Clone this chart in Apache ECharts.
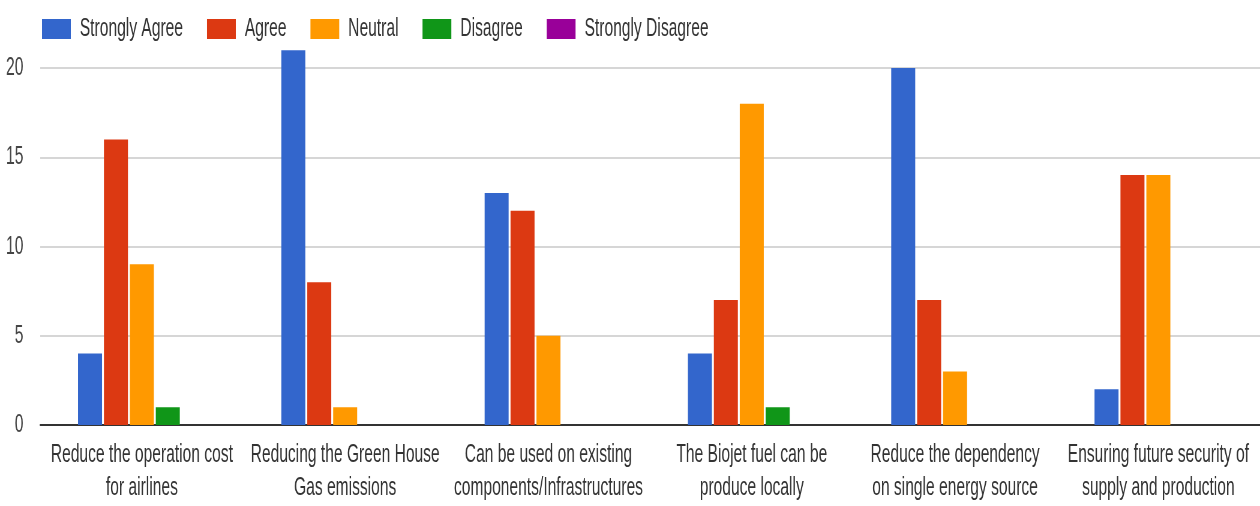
<!DOCTYPE html>
<html>
<head>
<meta charset="utf-8">
<script src="https://cdn.jsdelivr.net/npm/echarts@6/dist/echarts.min.js"></script>
<style>
  html, body { margin: 0; padding: 0; background: #fff; overflow: hidden; width: 1260px; height: 506px; }
  /* The chart is laid out wide and squeezed horizontally, giving condensed lettering */
  #chart { width: 2100px; height: 506px; transform: scaleX(0.6); transform-origin: 0 0; }
</style>
</head>
<body>
<div id="chart"></div>
<script>
// Survey statements (x categories)
const categories = [
  'Reduce the operation cost\nfor airlines',
  'Reducing the Green House\nGas emissions',
  'Can be used on existing\ncomponents/Infrastructures',
  'The Biojet fuel can be\nproduce locally',
  'Reduce the dependency\non single energy source',
  'Ensuring future security of\nsupply and production'
];

// Response counts per answer option
const stronglyAgree    = [4, 21, 13, 4, 20, 2];
const agree            = [16, 8, 12, 7, 7, 14];
const neutral          = [9, 1, 5, 18, 3, 14];
const disagree         = [1, 0, 0, 1, 0, 0];
const stronglyDisagree = [0, 0, 0, 0, 0, 0];

const seriesNames  = ['Strongly Agree', 'Agree', 'Neutral', 'Disagree', 'Strongly Disagree'];
const seriesData   = [stronglyAgree, agree, neutral, disagree, stronglyDisagree];
const seriesColors = ['#3366cc', '#dc3912', '#ff9900', '#109618', '#990099'];

// Value axis ticks
const yMin = 0, yMax = 20, yStep = 5;

const FONT = '"Liberation Sans", Arial, sans-serif';

const chart = echarts.init(document.getElementById('chart'), null, { renderer: 'canvas' });

chart.setOption({
  animation: false,
  backgroundColor: '#ffffff',
  textStyle: { fontFamily: FONT },
  legend: {
    left: 65,
    top: 11,
    itemWidth: 48,
    itemHeight: 20,
    itemGap: 40,
    icon: 'rect',
    data: seriesNames,
    textStyle: { fontFamily: FONT, fontSize: 26, color: '#333', padding: [0, 0, 0, 10] }
  },
  grid: { left: 67, right: 0, top: 68, bottom: 81, containLabel: false, outerBoundsMode: 'none' },
  xAxis: {
    type: 'category',
    data: categories,
    axisTick: { show: false },
    axisLine: { lineStyle: { color: '#333', width: 2 } },
    axisLabel: {
      interval: 0,
      margin: 13,
      fontFamily: FONT,
      fontSize: 26,
      lineHeight: 33,
      color: '#333',
      align: 'center'
    }
  },
  yAxis: {
    type: 'value',
    min: yMin,
    max: yMax,
    interval: yStep,
    axisLine: { show: false },
    axisTick: { show: false },
    axisLabel: { margin: 28, fontFamily: FONT, fontSize: 26, color: '#444' },
    splitLine: { lineStyle: { color: '#d6d6d6', width: 2 } }
  },
  series: seriesNames.map((name, i) => ({
    name,
    type: 'bar',
    data: seriesData[i],
    barWidth: 40,
    barGap: '8%',
    clip: false,
    itemStyle: { color: seriesColors[i] }
  }))
});
</script>
</body>
</html>
